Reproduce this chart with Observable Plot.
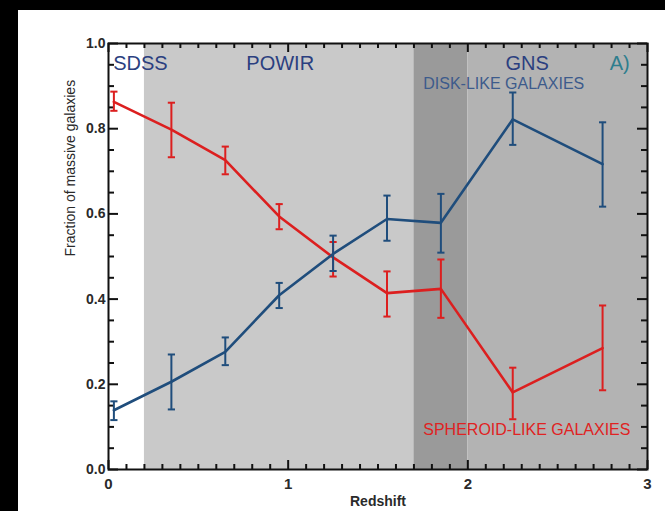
<!DOCTYPE html>
<html>
<head>
<meta charset="utf-8">
<script src="https://cdn.jsdelivr.net/npm/d3@7"></script>
<script src="https://cdn.jsdelivr.net/npm/@observablehq/plot@0.6"></script>
<style>
  html, body { margin: 0; padding: 0; background: #000; width: 665px; height: 511px; overflow: hidden; }
  #wrap { position: absolute; left: 18px; top: 10px; width: 647px; height: 501px; background: #fff; }
  svg { font-family: "Liberation Sans", Arial, sans-serif; }
</style>
</head>
<body>
<div id="wrap"></div>
<script>
// Redshift bins
const redshift = [0.03, 0.35, 0.65, 0.95, 1.25, 1.55, 1.85, 2.25, 2.75];

// Disk-like galaxies fraction and error range
const disk    = [0.139, 0.206, 0.276, 0.409, 0.506, 0.588, 0.579, 0.822, 0.717];
const diskLo  = [0.116, 0.141, 0.245, 0.379, 0.466, 0.537, 0.509, 0.762, 0.617];
const diskHi  = [0.160, 0.270, 0.310, 0.438, 0.549, 0.643, 0.647, 0.885, 0.815];

// Spheroid-like galaxies fraction and error range
const sph     = [0.863, 0.798, 0.726, 0.594, 0.498, 0.414, 0.424, 0.181, 0.285];
const sphLo   = [0.842, 0.733, 0.693, 0.564, 0.453, 0.359, 0.356, 0.118, 0.186];
const sphHi   = [0.887, 0.861, 0.758, 0.623, 0.534, 0.465, 0.493, 0.239, 0.385];

// Survey shaded regions
const bandStart = [0.2, 1.7, 2.0];
const bandEnd   = [1.7, 2.0, 3.0];
const bandFill  = ["#c9c9c9", "#9a9a9a", "#b3b3b3"];

// Axis ticks
const xMajor = [0, 1, 2, 3];
const xMinor = d3.range(1, 30).map(i => i / 10).filter(v => Math.abs(v - Math.round(v)) > 1e-9);
const yMajor = [0, 0.2, 0.4, 0.6, 0.8, 1.0];
const yMinor = d3.range(1, 20).map(i => i / 20).filter(v => Math.abs(v * 5 - Math.round(v * 5)) > 1e-9);

const xLabel = "Redshift";
const yLabel = "Fraction of massive galaxies";

const diskColor = "#1f4d7c";
const sphColor = "#dc1f1f";

const W = 647, H = 501, ML = 90, MR = 18, MT = 33, MB = 42;
const frameW = W - ML - MR, frameH = H - MT - MB;

const diskData = redshift.map((x, i) => ({x, y: disk[i], lo: diskLo[i], hi: diskHi[i]}));
const sphData  = redshift.map((x, i) => ({x, y: sph[i], lo: sphLo[i], hi: sphHi[i]}));
const bands = bandStart.map((s, i) => ({x1: s, x2: bandEnd[i], fill: bandFill[i]}));

const capHalf = 0.02;
function errorMarks(data, color) {
  return [
    Plot.ruleX(data, {x: "x", y1: "lo", y2: "hi", stroke: color, strokeWidth: 2}),
    Plot.link(data, {x1: d => d.x - capHalf, x2: d => d.x + capHalf, y1: "lo", y2: "lo", stroke: color, strokeWidth: 2}),
    Plot.link(data, {x1: d => d.x - capHalf, x2: d => d.x + capHalf, y1: "hi", y2: "hi", stroke: color, strokeWidth: 2})
  ];
}

// inward ticks on all four sides (lengths in pixels)
function xTicks(vals, len) {
  return [
    Plot.tickX(vals, {x: d => d, insetTop: frameH - len, stroke: "#111", strokeWidth: 2}),
    Plot.tickX(vals, {x: d => d, insetBottom: frameH - len, stroke: "#111", strokeWidth: 2})
  ];
}
function yTicks(vals, len) {
  return [
    Plot.tickY(vals, {y: d => d, insetRight: frameW - len, stroke: "#111", strokeWidth: 2}),
    Plot.tickY(vals, {y: d => d, insetLeft: frameW - len, stroke: "#111", strokeWidth: 2})
  ];
}

const chart = Plot.plot({
  width: W,
  height: H,
  marginLeft: ML,
  marginRight: MR,
  marginTop: MT,
  marginBottom: MB,
  x: {domain: [0, 3]},
  y: {domain: [0, 1]},
  style: {background: "#fff", fontFamily: '"Liberation Sans", Arial, sans-serif'},
  marks: [
    Plot.rect(bands, {x1: "x1", x2: "x2", y1: 0, y2: 1, fill: d => d.fill}),
    ...xTicks(xMajor, 9),
    ...xTicks(xMinor, 5),
    ...yTicks(yMajor, 10),
    ...yTicks(yMinor, 6),
    // tick labels
    Plot.axisX({anchor: "bottom", ticks: xMajor, tickSize: 0, tickPadding: 9, tickFormat: d3.format("d"), label: null,
      fontSize: 15, fontWeight: "bold", fill: "#2a2a2a"}),
    Plot.axisY({anchor: "left", ticks: yMajor, tickSize: 0, tickPadding: 3, tickFormat: d3.format(".1f"), label: null,
      fontSize: 14, fontWeight: "bold", fill: "#2a2a2a"}),
    Plot.text([xLabel], {frameAnchor: "bottom", dy: 32, text: d => d, fontSize: 14, fontWeight: "bold", fill: "#2a2a2a", lineAnchor: "middle"}),
    Plot.text([yLabel], {frameAnchor: "left", dx: -38, rotate: -90, text: d => d, fontSize: 14, fill: "#2a2a2a", lineAnchor: "middle"}),
    // data
    ...errorMarks(sphData, sphColor),
    Plot.line(sphData, {x: "x", y: "y", stroke: sphColor, strokeWidth: 2.6}),
    ...errorMarks(diskData, diskColor),
    Plot.line(diskData, {x: "x", y: "y", stroke: diskColor, strokeWidth: 2.6}),
    // annotations
    Plot.text(["SDSS"], {x: 0.026, y: 0.953, text: d => d, textAnchor: "start", fontSize: 20, fill: "#2b3f80"}),
    Plot.text(["POWIR"], {x: 0.767, y: 0.953, text: d => d, textAnchor: "start", fontSize: 20, fill: "#2b3f80"}),
    Plot.text(["GNS"], {x: 2.209, y: 0.953, text: d => d, textAnchor: "start", fontSize: 20, fill: "#2b3f80"}),
    Plot.text(["A)"], {x: 2.79, y: 0.953, text: d => d, textAnchor: "start", fontSize: 20, fill: "#2e7e8e"}),
    Plot.text(["DISK-LIKE GALAXIES"], {x: 1.752, y: 0.906, text: d => d, textAnchor: "start", fontSize: 16, fill: "#3d5b8c"}),
    Plot.text(["SPHEROID-LIKE GALAXIES"], {x: 1.752, y: 0.0925, text: d => d, textAnchor: "start", fontSize: 16, fill: "#e02222"}),
    Plot.frame({stroke: "#111", strokeWidth: 2})
  ]
});
document.getElementById("wrap").appendChild(chart);
</script>
</body>
</html>
